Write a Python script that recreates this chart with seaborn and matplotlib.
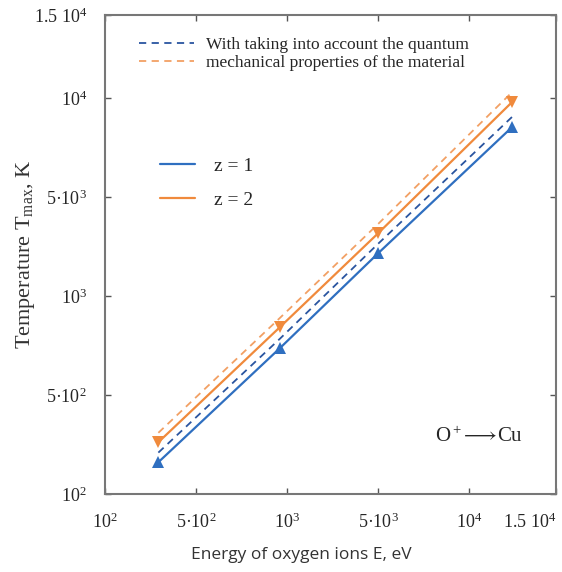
import numpy as np
import pandas as pd
import matplotlib
matplotlib.use("Agg")
import matplotlib.pyplot as plt
import seaborn as sns
from matplotlib.lines import Line2D

# axis positions of the tick labels (the axes are evenly spaced in label steps)
x_ticks = [0, 1, 2, 3, 4, 4.95]
x_labels = ['10$^2$', '5·10$^2$', '10$^3$', '5·10$^3$', '10$^4$', '1.5 10$^4$']
y_ticks = [0, 1, 2, 3, 4, 4.84]
y_labels = ['10$^2$', '5·10$^2$', '10$^3$', '5·10$^3$', '10$^4$', '1.5 10$^4$']

# energy points (in axis units)
energy = [0.585, 1.92, 3.0, 4.47]
# temperature (in axis units)
t_z1 = [0.323, 1.475, 2.434, 3.707]
t_z2 = [0.525, 1.687, 2.636, 3.96]
t_z1_q = [0.42, 1.57, 2.53, 3.81]
t_z2_q = [0.62, 1.78, 2.73, 4.06]

blue = '#2f6fc0'
orange = '#f08a3c'
blue_d = '#2a55a0'
orange_d = '#f2a064'

sns.set_style('ticks')
plt.rcParams['font.family'] = ['Liberation Serif', 'DejaVu Serif']
plt.rcParams['mathtext.fontset'] = 'custom'
plt.rcParams['mathtext.rm'] = 'Liberation Serif'
plt.rcParams['mathtext.it'] = 'Liberation Serif:italic'

df = pd.DataFrame({'E': energy, 'z1': t_z1, 'z2': t_z2, 'z1q': t_z1_q, 'z2q': t_z2_q})

fig = plt.figure(figsize=(5.62, 5.72), dpi=100)
ax = fig.add_axes([0.187, 0.136, 0.802, 0.838])

sns.lineplot(data=df, x='E', y='z1q', ax=ax, color=blue_d, lw=1.3, linestyle=(0, (4, 3)))
sns.lineplot(data=df, x='E', y='z2q', ax=ax, color=orange_d, lw=1.3, linestyle=(0, (4, 3)))
sns.lineplot(data=df, x='E', y='z1', ax=ax, color=blue, lw=1.6, marker='^', markersize=8,
             markeredgewidth=0)
sns.lineplot(data=df, x='E', y='z2', ax=ax, color=orange, lw=1.6, marker='v', markersize=8,
             markeredgewidth=0)

ax.set_xlim(0, 4.95)
ax.set_ylim(0, 4.84)
ax.set_xticks(x_ticks)
ax.set_xticklabels(x_labels, fontsize=13)
ax.get_xticklabels()[-1].set_ha('right')
ax.set_yticks(y_ticks)
ax.set_yticklabels(y_labels, fontsize=13)
ax.tick_params(direction='in', top=True, right=True, length=4, width=1, color='#555555',
               pad=13)
for s in ax.spines.values():
    s.set_color('#777777')
    s.set_linewidth(1.5)

ax.set_xlabel('Energy of oxygen ions E, eV', fontsize=12.5, family=['Open Sans', 'DejaVu Sans'],
              color='#333333')
ax.xaxis.set_label_coords(0.435, -0.11)
ax.set_ylabel('Temperature T$_{\\rm max}$, K', fontsize=16, color='#333333')
ax.yaxis.set_label_coords(-0.15, 0.5)

h1 = [Line2D([], [], color=blue_d, lw=1.3, linestyle=(0, (4, 3))),
      Line2D([], [], color=orange_d, lw=1.3, linestyle=(0, (4, 3)))]
leg1 = ax.legend(h1, ['With taking into account the quantum', 'mechanical properties of the material'],
                 loc='upper left', bbox_to_anchor=(0.04, 0.987), frameon=False, fontsize=12.5,
                 handlelength=3.2, handletextpad=0.7, labelspacing=0.1)
ax.add_artist(leg1)

h2 = [Line2D([], [], color=blue, lw=1.6), Line2D([], [], color=orange, lw=1.6)]
ax.legend(h2, ['z = 1', 'z = 2'], loc='upper left', bbox_to_anchor=(0.083, 0.74), frameon=False,
          fontsize=14, handlelength=1.8, handletextpad=1.0, labelspacing=0.85)

ax.text(0.83, 0.12, 'O$^+$$\\!\\longrightarrow\\!$Cu', transform=ax.transAxes, fontsize=15,
        ha='center', va='center', family=['Liberation Serif', 'DejaVu Serif'])

fig.savefig('out.png', dpi=100)
